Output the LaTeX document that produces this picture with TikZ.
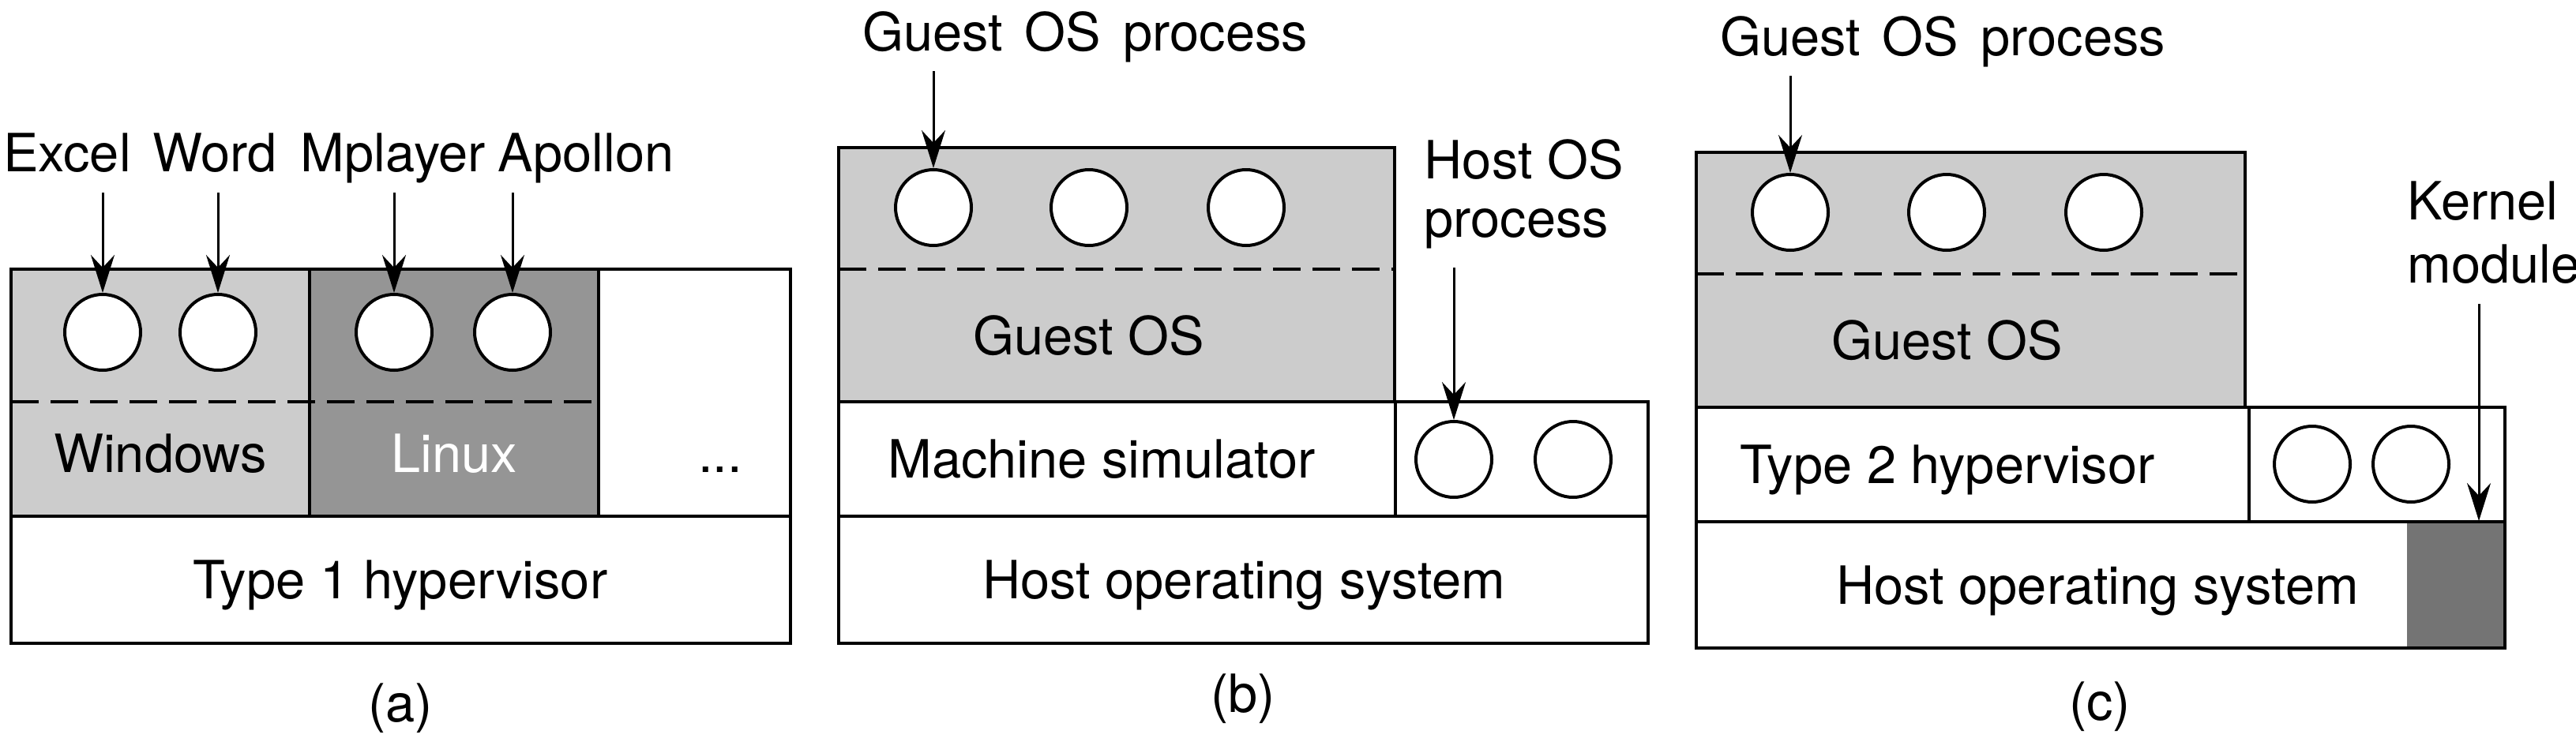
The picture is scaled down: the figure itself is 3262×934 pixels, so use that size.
\documentclass[tikz,border=0pt]{standalone}
\usepackage{fontspec}
\setmainfont{TeX Gyre Heros}
\usetikzlibrary{arrows.meta}
\definecolor{guestgray}{HTML}{CCCCCC}
\definecolor{linuxgray}{HTML}{959595}
\definecolor{kernelgray}{HTML}{747474}
\tikzset{
  proc/.style={circle,draw,fill=white,line width=0.4mm,minimum size=9.6mm,inner sep=0pt},
  lbl/.style={inner sep=0pt,anchor=base,font=\fontsize{19}{21}\selectfont},
  arr/.style={-{Stealth[length=4.8mm,width=3mm,inset=1.6mm]},line width=0.3mm},
  layer/.style={draw,line width=0.35mm},
  sep/.style={dash pattern=on 3.5mm off 1.5mm,line width=0.4mm}
}
\begin{document}
\begin{tikzpicture}[x=0.1mm,y=-0.1mm]
  \useasboundingbox (0,0) rectangle (3262,934);

  \draw[layer,fill=guestgray] (14,341) rectangle (392,654);
  \draw[layer,fill=linuxgray] (392,341) rectangle (758,654);
  \draw[layer] (758,341) rectangle (1001,654);
  \draw[layer] (14,654) rectangle (1001,815);
  \draw[sep] (14,509) -- (750,509);
  \node[proc] (pa1) at (130,421) {};
  \node[proc] (pa2) at (276,421) {};
  \node[proc] (pa3) at (499,421) {};
  \node[proc] (pa4) at (649,421) {};
  \node[lbl] (excel) at (85,217) {Excel};
  \node[lbl] (word) at (272,217) {Word};
  \node[lbl] (mplayer) at (498,217) {Mplayer};
  \node[lbl] (apollon) at (742,217) {Apollon};
  \coordinate (sa1) at (130,244);
  \coordinate (sa2) at (276,244);
  \coordinate (sa3) at (499,244);
  \coordinate (sa4) at (649,244);
  \draw[arr] (sa1) -- (pa1);
  \draw[arr] (sa2) -- (pa2);
  \draw[arr] (sa3) -- (pa3);
  \draw[arr] (sa4) -- (pa4);
  \node[lbl] (windows) at (203,598) {Windows};
  \node[lbl,text=white] (linux) at (575,598) {Linux};
  \node[lbl] (dots) at (912,598) {...};
  \node[lbl] (hyp1) at (507,758) {Type 1 hypervisor};
  \node[lbl,anchor=center] (capa) at (507,897) {(a)};

  \draw[layer,fill=guestgray] (1062,187) rectangle (1766,509);
  \draw[sep] (1062,341) -- (1764,341);
  \draw[layer] (1062,509) rectangle (1767,654);
  \draw[layer] (1767,509) rectangle (2087,654);
  \draw[layer] (1062,654) rectangle (2087,815);
  \node[proc] (gb1) at (1182,263) {};
  \node[proc] (gb2) at (1379,263) {};
  \node[proc] (gb3) at (1578,263) {};
  \node[proc] (hb1) at (1841,582) {};
  \node[proc] (hb2) at (1992,582) {};
  \node[lbl] (gpb) at (1374,64) {Guest\hspace{.42em}OS\hspace{.42em}process};
  \node[lbl,anchor=base west,align=left,font=\fontsize{19}{21}\selectfont] (hpb) at (1803,300) {Host OS\\process};
  \coordinate (sgb) at (1182,90);
  \coordinate (shb) at (1841,339);
  \draw[arr] (sgb) -- (gb1);
  \draw[arr] (shb) -- (hb1);
  \node[lbl] (gosb) at (1379,449) {Guest OS};
  \node[lbl] (msim) at (1395,605) {Machine simulator};
  \node[lbl] (hosb) at (1575,758) {Host operating system};
  \node[lbl,anchor=center] (capb) at (1574,885) {(b)};

  \draw[layer,fill=guestgray] (2148,193) rectangle (2843,516);
  \draw[sep] (2148,347) -- (2838,347);
  \draw[layer] (2148,516) rectangle (2848,661);
  \draw[layer] (2848,516) rectangle (3172,661);
  \fill[kernelgray] (3048,661) rectangle (3172,821);
  \draw[layer] (2148,661) rectangle (3172,821);
  \node[proc] (gc1) at (2267,269) {};
  \node[proc] (gc2) at (2465,269) {};
  \node[proc] (gc3) at (2664,269) {};
  \node[proc] (hc1) at (2928,588) {};
  \node[proc] (hc2) at (3053,588) {};
  \node[lbl] (gpc) at (2460,70) {Guest\hspace{.42em}OS\hspace{.42em}process};
  \node[lbl,anchor=base west,align=left,font=\fontsize{19}{22.7}\selectfont] (kmod) at (3048,358) {Kernel\\module};
  \coordinate (sgc) at (2267,96);
  \coordinate (skm) at (3139,385);
  \coordinate (tkm) at (3139,660);
  \draw[arr] (sgc) -- (gc1);
  \draw[arr] (skm) -- (tkm);
  \node[lbl] (gosc) at (2466,455) {Guest OS};
  \node[lbl] (hyp2) at (2466,612) {Type 2 hypervisor};
  \node[lbl] (hosc) at (2656,765) {Host operating system};
  \node[lbl,anchor=center] (capc) at (2659,895) {(c)};
\end{tikzpicture}
\end{document}
